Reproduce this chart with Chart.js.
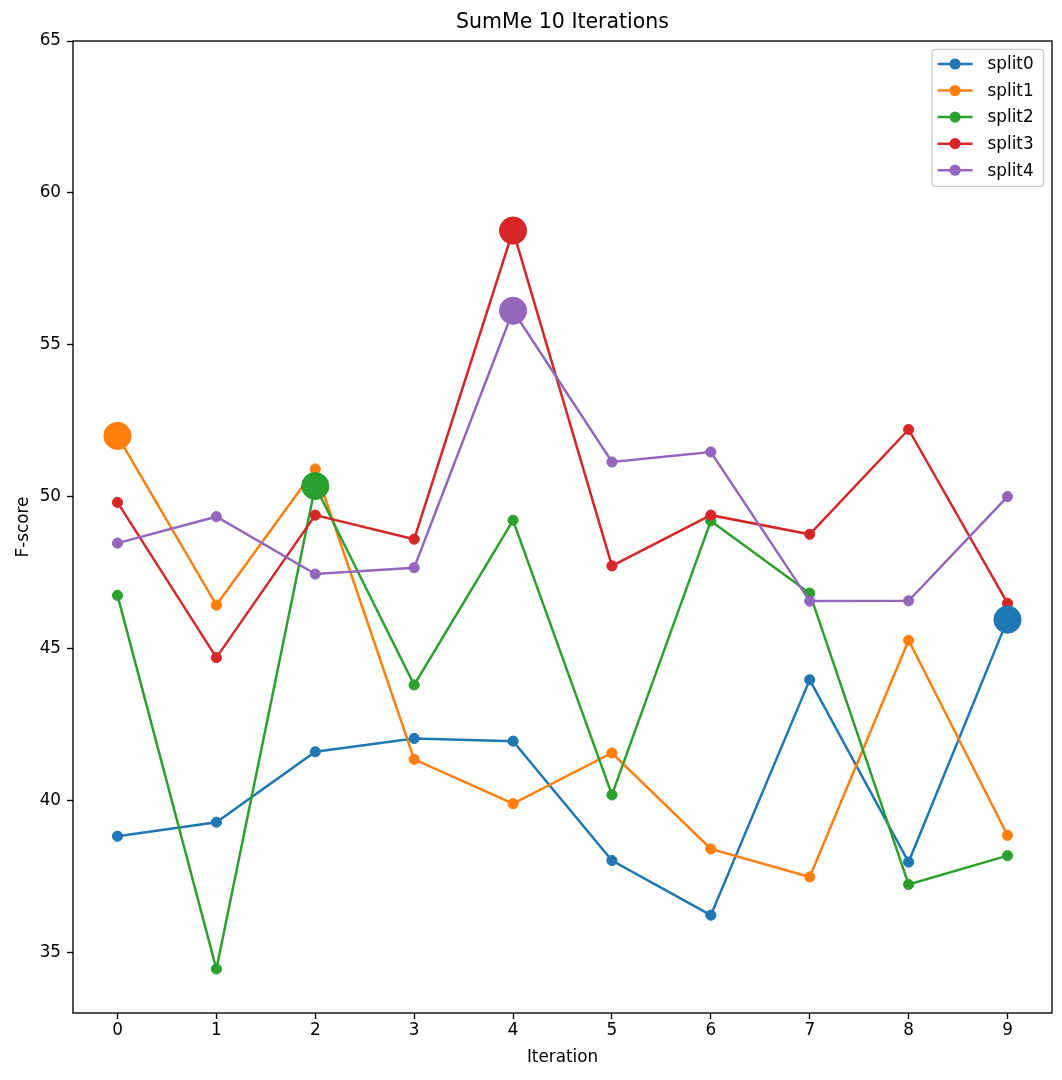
<!DOCTYPE html>
<html>
<head>
<meta charset="utf-8">
<script src="https://cdn.jsdelivr.net/npm/chart.js@4.4.0/dist/chart.umd.min.js"></script>
<style>
html,body{margin:0;padding:0;background:#fff;}
canvas{display:block;}
</style>
</head>
<body>
<canvas id="c" width="1062" height="1080" style="width:1062px;height:1080px"></canvas>
<script>
// ---- data ----
const iterations = [0, 1, 2, 3, 4, 5, 6, 7, 8, 9];
const seriesNames = ['split0', 'split1', 'split2', 'split3', 'split4'];
const split0 = [38.82, 39.28, 41.60, 42.04, 41.95, 38.02, 36.22, 43.97, 37.97, 45.95];
const split1 = [52.00, 46.43, 50.91, 41.35, 39.89, 41.56, 38.40, 37.48, 45.27, 38.85];
const split2 = [46.75, 34.45, 50.35, 43.80, 49.22, 40.18, 49.20, 46.82, 37.23, 38.18];
const split3 = [49.81, 44.70, 49.39, 48.60, 58.76, 47.72, 49.39, 48.76, 52.21, 46.49];
const split4 = [48.47, 49.34, 47.45, 47.66, 56.12, 51.14, 51.47, 46.56, 46.57, 50.00];
const seriesValues = [split0, split1, split2, split3, split4];
const yTickValues = [35, 40, 45, 50, 55, 60, 65];
const titleText = 'SumMe 10 Iterations';
const xTitle = 'Iteration';
const yTitle = 'F-score';

// ---- styles ----
const seriesColors = ['#1f77b4', '#ff7f0e', '#2ca02c', '#d62728', '#9467bd'];
const FONT = 'DejaVu Sans';
const TICK_FS = 16.8;
const TITLE_FS = 20.5;

function argMax(a) { let k = 0; for (let i = 1; i < a.length; i++) if (a[i] > a[k]) k = i; return k; }

const datasets = [];
seriesValues.forEach((vals, i) => {
  datasets.push({
    label: seriesNames[i],
    data: iterations.map((x, j) => ({ x: x, y: vals[j] })),
    borderColor: seriesColors[i],
    backgroundColor: seriesColors[i],
    pointBackgroundColor: seriesColors[i],
    pointBorderColor: seriesColors[i],
    borderWidth: 2.5,
    pointRadius: 5.1,
    pointBorderWidth: 1,
    pointHoverRadius: 5.1,
    tension: 0,
    order: 10 - i
  });
});
seriesValues.forEach((vals, i) => {
  const k = argMax(vals);
  datasets.push({
    label: seriesNames[i] + ' best',
    data: [{ x: iterations[k], y: vals[k] }],
    showLine: false,
    backgroundColor: seriesColors[i],
    pointBackgroundColor: seriesColors[i],
    pointBorderColor: seriesColors[i],
    pointRadius: 13.6,
    pointBorderWidth: 1,
    pointHoverRadius: 13.6,
    order: 5 - i
  });
});

const framePlugin = {
  id: 'frame',
  afterDatasetsDraw(chart) {
    const a = chart.chartArea, ctx = chart.ctx;
    ctx.save();
    ctx.strokeStyle = '#000';
    ctx.lineWidth = 1.35;
    ctx.strokeRect(a.left, a.top, a.right - a.left, a.bottom - a.top);
    ctx.restore();
  }
};

const legendPlugin = {
  id: 'mplLegend',
  afterDraw(chart) {
    const a = chart.chartArea, ctx = chart.ctx;
    const w = 111.5, rowH = 26.55, h = 137;
    const x0 = a.right - 8.4 - w, y0 = a.top + 8.4;
    ctx.save();
    const r = 3.4;
    ctx.beginPath();
    ctx.moveTo(x0 + r, y0);
    ctx.lineTo(x0 + w - r, y0);
    ctx.quadraticCurveTo(x0 + w, y0, x0 + w, y0 + r);
    ctx.lineTo(x0 + w, y0 + h - r);
    ctx.quadraticCurveTo(x0 + w, y0 + h, x0 + w - r, y0 + h);
    ctx.lineTo(x0 + r, y0 + h);
    ctx.quadraticCurveTo(x0, y0 + h, x0, y0 + h - r);
    ctx.lineTo(x0, y0 + r);
    ctx.quadraticCurveTo(x0, y0, x0 + r, y0);
    ctx.closePath();
    ctx.fillStyle = 'rgba(255,255,255,0.8)';
    ctx.fill();
    ctx.strokeStyle = '#cccccc';
    ctx.lineWidth = 1.35;
    ctx.stroke();
    ctx.font = TICK_FS + 'px "' + FONT + '"';
    ctx.textBaseline = 'middle';
    ctx.textAlign = 'left';
    seriesNames.forEach((name, i) => {
      const cy = y0 + 14.6 + i * rowH;
      ctx.strokeStyle = seriesColors[i];
      ctx.lineWidth = 2.5;
      ctx.beginPath();
      ctx.moveTo(x0 + 5.5, cy);
      ctx.lineTo(x0 + 40.5, cy);
      ctx.stroke();
      ctx.fillStyle = seriesColors[i];
      ctx.beginPath();
      ctx.arc(x0 + 23, cy, 5.6, 0, Math.PI * 2);
      ctx.fill();
      ctx.fillStyle = '#000';
      ctx.fillText(name, x0 + 55.5, cy + 1);
    });
    ctx.restore();
  }
};

Chart.defaults.font.family = FONT;
Chart.defaults.color = '#000';

new Chart(document.getElementById('c'), {
  type: 'line',
  data: { datasets: datasets },
  options: {
    responsive: false,
    devicePixelRatio: 1,
    animation: false,
    events: [],
    layout: { autoPadding: false, padding: { left: 0, right: 10, top: 0, bottom: 0 } },
    plugins: {
      legend: { display: false },
      tooltip: { enabled: false },
      title: {
        display: true,
        fullSize: false,
        text: titleText,
        color: '#000',
        font: { family: FONT, size: TITLE_FS, weight: 'normal' },
        padding: { top: 10.2, bottom: 6.2 }
      }
    },
    scales: {
      x: {
        type: 'linear',
        min: -0.45,
        max: 9.45,
        afterFit(scale) { scale.height = 67; },
        border: { display: false },
        grid: { drawOnChartArea: false, drawTicks: true, tickLength: 6, tickWidth: 1.35, tickColor: '#000' },
        ticks: {
          stepSize: 1,
          includeBounds: false,
          padding: 2,
          color: '#000',
          maxRotation: 0,
          autoSkip: false,
          font: { family: FONT, size: TICK_FS },
          callback: (v) => iterations.includes(v) ? String(v) : ''
        },
        title: {
          display: true,
          text: xTitle,
          color: '#000',
          font: { family: FONT, size: TICK_FS },
          padding: { top: 0, bottom: 11.9 }
        }
      },
      y: {
        type: 'linear',
        min: 33,
        max: 65,
        afterFit(scale) { scale.width = 73; },
        afterBuildTicks(scale) { scale.ticks = yTickValues.map(v => ({ value: v })); },
        border: { display: false },
        grid: { drawOnChartArea: false, drawTicks: true, tickLength: 6, tickWidth: 1.35, tickColor: '#000' },
        ticks: {
          stepSize: 5,
          includeBounds: false,
          padding: 6,
          color: '#000',
          font: { family: FONT, size: TICK_FS }
        },
        title: {
          display: true,
          text: yTitle,
          color: '#000',
          font: { family: FONT, size: TICK_FS },
          padding: { top: 13.5, bottom: 0 }
        }
      }
    }
  },
  plugins: [framePlugin, legendPlugin]
});
</script>
</body>
</html>
